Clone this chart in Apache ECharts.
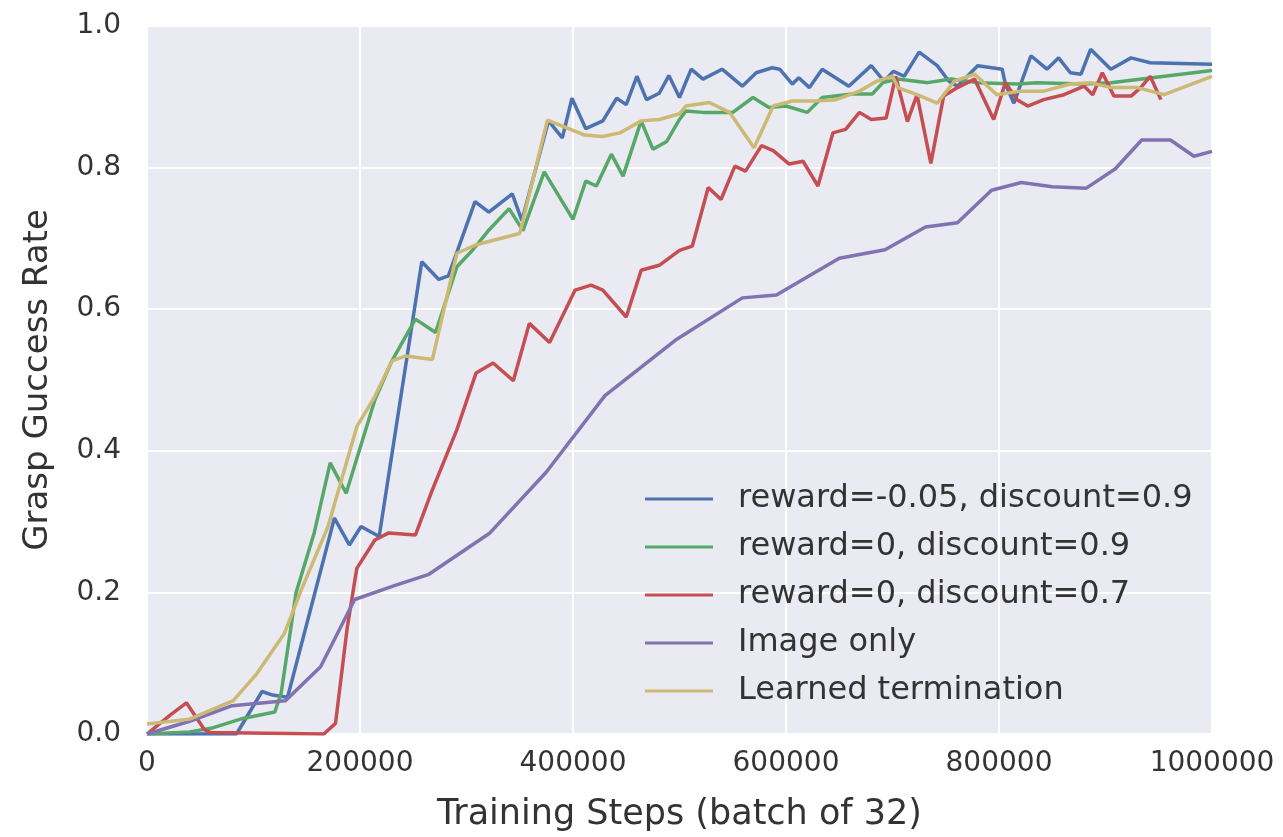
<!DOCTYPE html>
<html>
<head>
<meta charset="utf-8">
<script src="https://cdn.jsdelivr.net/npm/echarts@6/dist/echarts.min.js"></script>
<style>
  html, body { margin: 0; padding: 0; background: #fff; }
  #chart { width: 1283px; height: 837px; }
</style>
</head>
<body>
<div id="chart"></div>
<script>
// series names as in the legend
const seriesNames = [
  'reward=-0.05, discount=0.9',
  'reward=0, discount=0.9',
  'reward=0, discount=0.7',
  'Image only',
  'Learned termination'
];
const seriesColors = ['#4C72B0', '#55A868', '#C44E52', '#8172B2', '#CCB974'];

// [training step, grasp success rate]
const bluePoints = [
  [0, 0], [84000, 0], [108000, 0.06], [118000, 0.055], [132000, 0.052], [176000, 0.305],
  [190000, 0.267], [201000, 0.293], [218000, 0.279], [258000, 0.667], [274000, 0.642],
  [283000, 0.647], [308000, 0.752], [321000, 0.737], [343000, 0.763], [352000, 0.725],
  [377000, 0.866], [390000, 0.842], [399000, 0.898], [412000, 0.855], [428000, 0.866],
  [441000, 0.898], [450000, 0.889], [460000, 0.929], [469000, 0.896], [481000, 0.905],
  [490000, 0.930], [500000, 0.899], [511000, 0.939], [522000, 0.925], [540000, 0.939],
  [559000, 0.915], [572000, 0.934], [587000, 0.941], [594000, 0.939], [606000, 0.918],
  [612000, 0.927], [622000, 0.913], [634000, 0.939], [659000, 0.915], [680000, 0.944],
  [692000, 0.922], [701000, 0.936], [711000, 0.929], [725000, 0.963], [742000, 0.944],
  [753000, 0.922], [761000, 0.915], [780000, 0.944], [803000, 0.939], [806000, 0.918],
  [814000, 0.891], [830000, 0.958], [845000, 0.939], [856000, 0.955], [867000, 0.934],
  [877000, 0.932], [886000, 0.967], [905000, 0.939], [924000, 0.955], [942000, 0.948],
  [1000000, 0.946]
];
const greenPoints = [
  [0, 0], [40000, 0.003], [60000, 0.008], [90000, 0.022], [120000, 0.031], [126000, 0.058],
  [140000, 0.2], [157000, 0.284], [172000, 0.383], [187000, 0.340], [214000, 0.472],
  [230000, 0.527], [252000, 0.586], [271000, 0.567], [291000, 0.66], [306000, 0.684],
  [320000, 0.71], [340000, 0.742], [353000, 0.711], [373000, 0.794], [400000, 0.727],
  [412000, 0.781], [422000, 0.774], [436000, 0.819], [447000, 0.788], [464000, 0.866],
  [475000, 0.826], [488000, 0.837], [500000, 0.868], [506000, 0.880], [522000, 0.878],
  [550000, 0.878], [569000, 0.899], [584000, 0.885], [600000, 0.887], [620000, 0.878],
  [634000, 0.899], [662000, 0.904], [681000, 0.904], [691000, 0.920], [705000, 0.925],
  [733000, 0.920], [755000, 0.925], [780000, 0.920], [817000, 0.918], [836000, 0.920],
  [880000, 0.918], [905000, 0.920], [1000000, 0.937]
];
const redPoints = [
  [0, 0], [22000, 0.027], [37000, 0.044], [54000, 0.006], [60000, 0.002], [166000, 0.0],
  [177000, 0.015], [188000, 0.150], [197000, 0.234], [214000, 0.274], [227000, 0.284],
  [252000, 0.281], [268000, 0.345], [291000, 0.43], [309000, 0.510], [325000, 0.524],
  [344000, 0.499], [359000, 0.580], [378000, 0.553], [402000, 0.627], [417000, 0.634],
  [428000, 0.627], [450000, 0.589], [464000, 0.655], [481000, 0.662], [500000, 0.683],
  [512000, 0.689], [527000, 0.772], [539000, 0.755], [552000, 0.802], [562000, 0.795],
  [577000, 0.831], [588000, 0.824], [603000, 0.805], [616000, 0.809], [630000, 0.774],
  [644000, 0.849], [656000, 0.854], [669000, 0.878], [680000, 0.868], [694000, 0.870],
  [703000, 0.929], [714000, 0.865], [723000, 0.903], [736000, 0.806], [748000, 0.901],
  [761000, 0.913], [777000, 0.925], [795000, 0.868], [806000, 0.920], [817000, 0.896],
  [827000, 0.887], [842000, 0.896], [861000, 0.903], [880000, 0.915], [888000, 0.903],
  [897000, 0.934], [908000, 0.901], [924000, 0.901], [933000, 0.913], [942000, 0.929],
  [952000, 0.896]
];
const purplePoints = [
  [0, 0], [40000, 0.018], [80000, 0.04], [130000, 0.047], [163000, 0.095], [195000, 0.19],
  [233000, 0.21], [264000, 0.225], [322000, 0.284], [375000, 0.37], [430000, 0.478],
  [496000, 0.556], [559000, 0.616], [591000, 0.62], [650000, 0.672], [693000, 0.684],
  [731000, 0.716], [761000, 0.722], [793000, 0.768], [821000, 0.779], [850000, 0.773],
  [882000, 0.771], [909000, 0.798], [934000, 0.839], [961000, 0.839], [983000, 0.816],
  [1000000, 0.823]
];
const yellowPoints = [
  [0, 0.014], [40000, 0.021], [81000, 0.047], [103000, 0.085], [129000, 0.142],
  [145000, 0.204], [170000, 0.293], [197000, 0.434], [214000, 0.477], [230000, 0.527],
  [243000, 0.534], [268000, 0.529], [291000, 0.679], [309000, 0.691], [350000, 0.707],
  [376000, 0.867], [411000, 0.846], [428000, 0.844], [444000, 0.849], [464000, 0.866],
  [481000, 0.868], [500000, 0.876], [506000, 0.887], [528000, 0.892], [547000, 0.878],
  [570000, 0.828], [588000, 0.887], [606000, 0.894], [628000, 0.894], [647000, 0.896],
  [669000, 0.908], [685000, 0.922], [700000, 0.929], [705000, 0.913], [723000, 0.903],
  [742000, 0.891], [758000, 0.922], [777000, 0.932], [798000, 0.903], [820000, 0.908],
  [842000, 0.908], [867000, 0.918], [886000, 0.920], [905000, 0.913], [930000, 0.913],
  [955000, 0.903], [1000000, 0.929]
];

const allPoints = [bluePoints, greenPoints, redPoints, purplePoints, yellowPoints];

const chart = echarts.init(document.getElementById('chart'));
const fontFamily = 'DejaVu Sans';
const textColor = '#333333';

chart.setOption({
  animation: false,
  color: seriesColors,
  textStyle: { fontFamily: fontFamily },
  grid: {
    left: 147, right: 71, top: 26, bottom: 102,
    show: true, backgroundColor: '#EAEAF2', borderWidth: 0
  },
  legend: {
    orient: 'vertical',
    left: 640, top: 476,
    icon: 'rect',
    itemWidth: 68, itemHeight: 3,
    itemGap: 12,
    textStyle: { fontSize: 32, color: textColor, fontFamily: fontFamily, padding: [0, 0, 0, 20], lineHeight: 36 },
    data: seriesNames
  },
  xAxis: {
    type: 'value',
    min: 0, max: 1000000, interval: 200000,
    name: 'Training Steps (batch of 32)',
    nameLocation: 'middle',
    nameGap: 63,
    nameTextStyle: { fontSize: 35, color: textColor, fontFamily: fontFamily },
    axisLine: { show: false },
    axisTick: { show: false },
    axisLabel: { fontSize: 28, color: textColor, margin: 16, formatter: v => String(v) },
    splitLine: { lineStyle: { color: '#ffffff', width: 2 } }
  },
  yAxis: {
    type: 'value',
    min: 0, max: 1, interval: 0.2,
    name: 'Grasp Guccess Rate',
    nameLocation: 'middle',
    nameGap: 92,
    nameTextStyle: { fontSize: 34, color: textColor, fontFamily: fontFamily },
    axisLine: { show: false },
    axisTick: { show: false },
    axisLabel: { fontSize: 28, color: textColor, margin: 26, formatter: v => v.toFixed(1) },
    splitLine: { lineStyle: { color: '#ffffff', width: 2 } }
  },
  series: seriesNames.map((name, i) => ({
    name: name,
    type: 'line',
    data: allPoints[i],
    showSymbol: false,
    symbol: 'none',
    clip: true,
    lineStyle: { width: 3.5, color: seriesColors[i] },
    itemStyle: { color: seriesColors[i] },
    z: 2 + i
  }))
});
</script>
</body>
</html>
